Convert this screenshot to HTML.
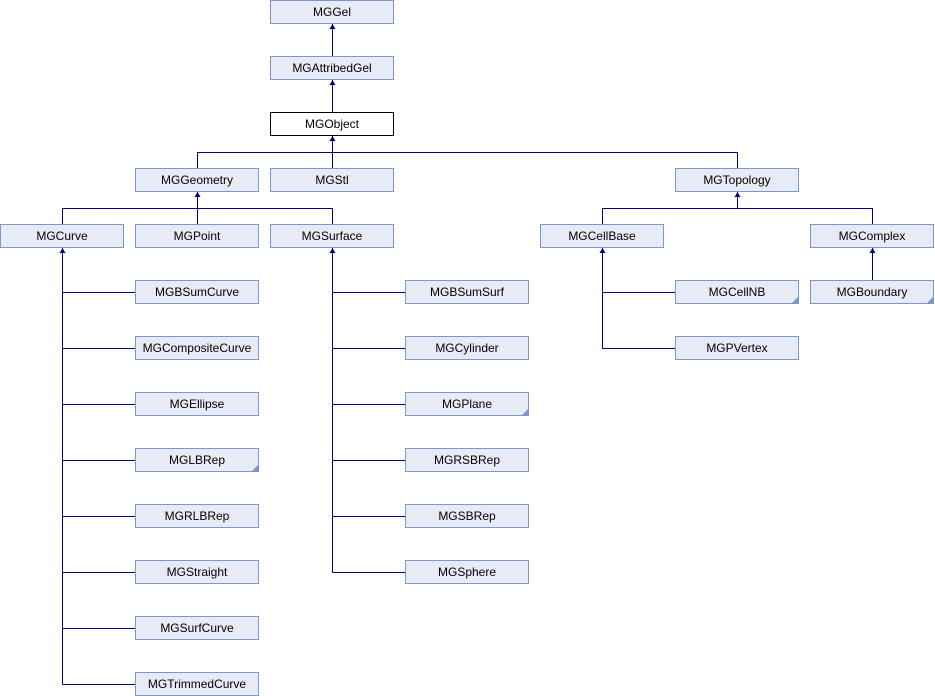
<!DOCTYPE html>
<html><head><meta charset="utf-8"><style>
html,body{margin:0;padding:0;background:#fff;width:935px;height:696px;overflow:hidden}
text{font-family:"Liberation Sans",sans-serif;font-size:12px;fill:#000}
</style></head><body>
<svg width="935" height="696" xmlns="http://www.w3.org/2000/svg">
<g stroke="#000080" stroke-width="1" fill="none">
<!-- MGGel -> AttribedGel -> Object -->
<line x1="332.5" y1="24" x2="332.5" y2="56"/>
<line x1="332.5" y1="80" x2="332.5" y2="112"/>
<!-- Object children -->
<line x1="332.5" y1="136" x2="332.5" y2="168"/>
<polyline points="197.5,168 197.5,152.5 737.5,152.5 737.5,168"/>
<!-- Geometry children -->
<line x1="197.5" y1="192" x2="197.5" y2="224"/>
<polyline points="62.5,224 62.5,208.5 332.5,208.5 332.5,224"/>
<!-- Topology children -->
<line x1="737.5" y1="192" x2="737.5" y2="208.5"/>
<polyline points="602.5,224 602.5,208.5 872.5,208.5 872.5,224"/>
<!-- Curve children -->
<line x1="62.5" y1="248" x2="62.5" y2="684.5"/>
<line x1="62.5" y1="292.5" x2="135" y2="292.5"/>
<line x1="62.5" y1="348.5" x2="135" y2="348.5"/>
<line x1="62.5" y1="404.5" x2="135" y2="404.5"/>
<line x1="62.5" y1="460.5" x2="135" y2="460.5"/>
<line x1="62.5" y1="516.5" x2="135" y2="516.5"/>
<line x1="62.5" y1="572.5" x2="135" y2="572.5"/>
<line x1="62.5" y1="628.5" x2="135" y2="628.5"/>
<line x1="62.5" y1="684.5" x2="135" y2="684.5"/>
<!-- Surface children -->
<line x1="332.5" y1="248" x2="332.5" y2="572.5"/>
<line x1="332.5" y1="292.5" x2="405" y2="292.5"/>
<line x1="332.5" y1="348.5" x2="405" y2="348.5"/>
<line x1="332.5" y1="404.5" x2="405" y2="404.5"/>
<line x1="332.5" y1="460.5" x2="405" y2="460.5"/>
<line x1="332.5" y1="516.5" x2="405" y2="516.5"/>
<line x1="332.5" y1="572.5" x2="405" y2="572.5"/>
<!-- CellBase children -->
<line x1="602.5" y1="248" x2="602.5" y2="348.5"/>
<line x1="602.5" y1="292.5" x2="675" y2="292.5"/>
<line x1="602.5" y1="348.5" x2="675" y2="348.5"/>
<!-- Complex -->
<line x1="872.5" y1="248" x2="872.5" y2="280"/>
</g>
<g fill="#000080">
<polygon points="332.5,24 329.5,29 335.5,29"/>
<polygon points="332.5,80 329.5,85 335.5,85"/>
<polygon points="332.5,136 329.5,141 335.5,141"/>
<polygon points="197.5,192 194.5,197 200.5,197"/>
<polygon points="737.5,192 734.5,197 740.5,197"/>
<polygon points="62.5,248 59.5,253 65.5,253"/>
<polygon points="332.5,248 329.5,253 335.5,253"/>
<polygon points="602.5,248 599.5,253 605.5,253"/>
<polygon points="872.5,248 869.5,253 875.5,253"/>
</g>
<g id="boxes" stroke="#7d97cd" stroke-width="1" fill="#e7ebf5">
<rect x="270.5" y="0.5" width="123" height="23"/>
<rect x="270.5" y="56.5" width="123" height="23"/>
<rect x="270.5" y="112.5" width="123" height="23" fill="#fff" stroke="#000"/>
<rect x="135.5" y="168.5" width="123" height="23"/>
<rect x="270.5" y="168.5" width="123" height="23"/>
<rect x="675.5" y="168.5" width="123" height="23"/>
<rect x="0.5" y="224.5" width="123" height="23"/>
<rect x="135.5" y="224.5" width="123" height="23"/>
<rect x="270.5" y="224.5" width="123" height="23"/>
<rect x="540.5" y="224.5" width="123" height="23"/>
<rect x="810.5" y="224.5" width="123" height="23"/>
<rect x="135.5" y="280.5" width="123" height="23"/>
<rect x="405.5" y="280.5" width="123" height="23"/>
<rect x="675.5" y="280.5" width="123" height="23"/>
<rect x="810.5" y="280.5" width="123" height="23"/>
<rect x="135.5" y="336.5" width="123" height="23"/>
<rect x="405.5" y="336.5" width="123" height="23"/>
<rect x="675.5" y="336.5" width="123" height="23"/>
<rect x="135.5" y="392.5" width="123" height="23"/>
<rect x="405.5" y="392.5" width="123" height="23"/>
<rect x="135.5" y="448.5" width="123" height="23"/>
<rect x="405.5" y="448.5" width="123" height="23"/>
<rect x="135.5" y="504.5" width="123" height="23"/>
<rect x="405.5" y="504.5" width="123" height="23"/>
<rect x="135.5" y="560.5" width="123" height="23"/>
<rect x="405.5" y="560.5" width="123" height="23"/>
<rect x="135.5" y="616.5" width="123" height="23"/>
<rect x="135.5" y="672.5" width="123" height="23"/>
</g>
<g fill="#7d97cd">
<polygon points="798,297 798,303 792,303"/>
<polygon points="933,297 933,303 927,303"/>
<polygon points="528,409 528,415 522,415"/>
<polygon points="258,465 258,471 252,471"/>
</g>
<g text-anchor="middle">
<text x="332" y="16">MGGel</text>
<text x="332" y="72">MGAttribedGel</text>
<text x="332" y="128">MGObject</text>
<text x="197" y="184">MGGeometry</text>
<text x="332" y="184">MGStl</text>
<text x="737" y="184">MGTopology</text>
<text x="62" y="240">MGCurve</text>
<text x="197" y="240">MGPoint</text>
<text x="332" y="240">MGSurface</text>
<text x="602" y="240">MGCellBase</text>
<text x="872" y="240">MGComplex</text>
<text x="197" y="296">MGBSumCurve</text>
<text x="467" y="296">MGBSumSurf</text>
<text x="737" y="296">MGCellNB</text>
<text x="872" y="296">MGBoundary</text>
<text x="197" y="352">MGCompositeCurve</text>
<text x="467" y="352">MGCylinder</text>
<text x="737" y="352">MGPVertex</text>
<text x="197" y="408">MGEllipse</text>
<text x="467" y="408">MGPlane</text>
<text x="197" y="464">MGLBRep</text>
<text x="467" y="464">MGRSBRep</text>
<text x="197" y="520">MGRLBRep</text>
<text x="467" y="520">MGSBRep</text>
<text x="197" y="576">MGStraight</text>
<text x="467" y="576">MGSphere</text>
<text x="197" y="632">MGSurfCurve</text>
<text x="197" y="688">MGTrimmedCurve</text>
</g>
</svg>
</body></html>
